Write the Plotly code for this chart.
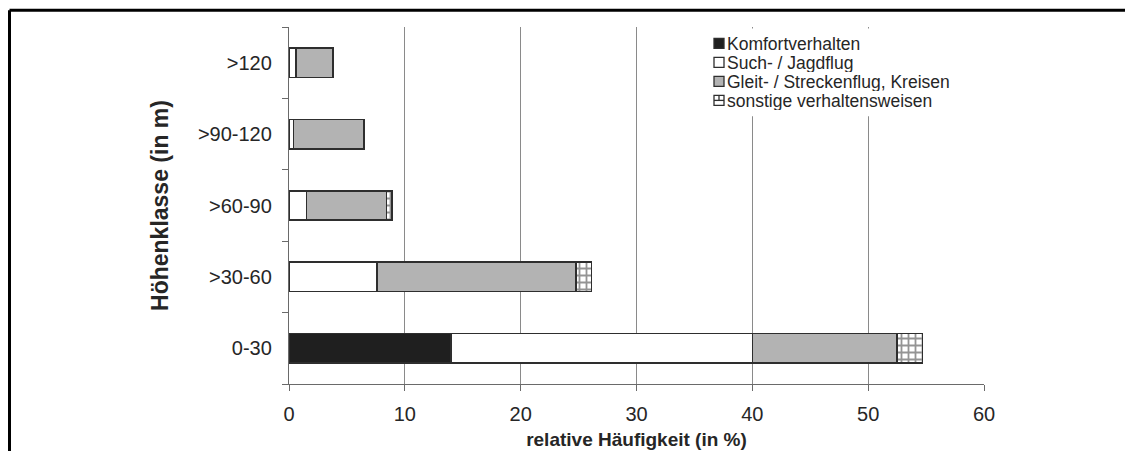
import plotly.graph_objects as go

categories = ["0-30", ">30-60", ">60-90", ">90-120", ">120"]
komfort = [14.0, 0.0, 0.0, 0.0, 0.0]
such = [26.0, 7.6, 1.5, 0.4, 0.6]
gleit = [12.5, 17.2, 6.9, 6.1, 3.2]
sonstige = [2.2, 1.3, 0.5, 0.0, 0.0]
series_names = ["Komfortverhalten", "Such- / Jagdflug",
                "Gleit- / Streckenflug, Kreisen", "sonstige verhaltensweisen"]
x_ticks = [0, 10, 20, 30, 40, 50, 60]

FONT = "Liberation Sans, Arial, sans-serif"
TXT = "#262626"
LINE = "#2e2e2e"
COL_BLACK = "#1f1f1f"
COL_WHITE = "#ffffff"
COL_GRAY = "#b3b3b3"

pattern = dict(shape="+", fgcolor="#2a2a2a", bgcolor="#ffffff", size=7, solidity=0.45)

fig = go.Figure()
fig.add_trace(go.Bar(y=categories, x=komfort, orientation="h", name=series_names[0],
                     marker=dict(color=COL_BLACK, line=dict(color=LINE, width=1.6))))
fig.add_trace(go.Bar(y=categories, x=such, orientation="h", name=series_names[1],
                     marker=dict(color=COL_WHITE, line=dict(color=LINE, width=1.6))))
fig.add_trace(go.Bar(y=categories, x=gleit, orientation="h", name=series_names[2],
                     marker=dict(color=COL_GRAY, line=dict(color=LINE, width=1.6))))
fig.add_trace(go.Bar(y=categories, x=sonstige, orientation="h", name=series_names[3],
                     marker=dict(color=COL_WHITE, line=dict(color=LINE, width=1.6),
                                 pattern=pattern)))

# page has an 8px body margin; plot area on screen: left 289, right 984, top 26.5, bottom 384
OFF = 8
FW, FH = 1133 - OFF, 451 - OFF
L, R, T, B = 289, 984, 26.5, 384
W, H = R - L, B - T


def px(x):
    return (x - L) / W


def py(y):
    return (B - y) / H


shapes = [
    # outer frame (top and left edges)
    dict(type="line", xref="paper", yref="paper", x0=px(9.5), x1=px(1140),
         y0=py(9.7), y1=py(9.7), line=dict(color="black", width=3), layer="above"),
    dict(type="line", xref="paper", yref="paper", x0=px(9.5), x1=px(9.5),
         y0=py(9.7), y1=py(460), line=dict(color="black", width=3), layer="above"),
    # legend background
    dict(type="rect", xref="paper", yref="paper", x0=px(706), x1=px(976),
         y0=py(28), y1=py(116), fillcolor="white", line=dict(width=0), layer="above"),
]

annotations = []
row_y = [43, 62, 81, 100]
fills = [COL_BLACK, COL_WHITE, COL_GRAY, COL_WHITE]
for i, name in enumerate(series_names):
    cy = row_y[i]
    shapes.append(dict(type="rect", xref="paper", yref="paper",
                       x0=px(714), x1=px(724), y0=py(cy - 5), y1=py(cy + 5),
                       fillcolor=fills[i], line=dict(color=LINE, width=1.3), layer="above"))
    if i == 3:
        shapes.append(dict(type="line", xref="paper", yref="paper",
                           x0=px(714), x1=px(724), y0=py(cy), y1=py(cy),
                           line=dict(color=LINE, width=1.3), layer="above"))
        shapes.append(dict(type="line", xref="paper", yref="paper",
                           x0=px(719), x1=px(719), y0=py(cy - 5), y1=py(cy),
                           line=dict(color=LINE, width=1.3), layer="above"))
    annotations.append(dict(text=name, xref="paper", yref="paper",
                            x=px(725), y=py(cy), xanchor="left", yanchor="middle",
                            height=19, valign="middle",
                            showarrow=False, font=dict(size=17.5, family=FONT, color=TXT)))

fig.update_layout(
    width=FW, height=FH,
    margin=dict(l=L - OFF, r=FW - (R - OFF), t=T - OFF, b=FH - (B - OFF)),
    paper_bgcolor="white", plot_bgcolor="white",
    barmode="stack", bargap=0.59,
    font=dict(family=FONT, color=TXT, size=19),
    showlegend=False,
    xaxis=dict(range=[0, 60], tickvals=x_ticks, ticktext=[str(v) for v in x_ticks],
               automargin=False,
               showgrid=True, gridcolor="#8a8a8a", gridwidth=1,
               showline=True, linecolor="#6a6a6a", linewidth=1.3,
               ticks="outside", ticklen=6, tickcolor="#6a6a6a",
               ticklabelstandoff=6,
               zeroline=False, tickfont=dict(size=20),
               title=dict(text="<b>relative Häufigkeit (in %)</b>", font=dict(size=19),
                          standoff=8)),
    yaxis=dict(showgrid=False, showline=True, linecolor="#6a6a6a", linewidth=1.3,
               automargin=False,
               ticks="outside", ticklen=6, tickcolor="#6a6a6a", tickson="boundaries",
               ticklabelstandoff=12,
               tickfont=dict(size=20),
               title=dict(text="<b>Höhenklasse (in m)</b>", font=dict(size=23),
                          standoff=22)),
    shapes=shapes,
    annotations=annotations,
)

fig.write_html("out.html")
